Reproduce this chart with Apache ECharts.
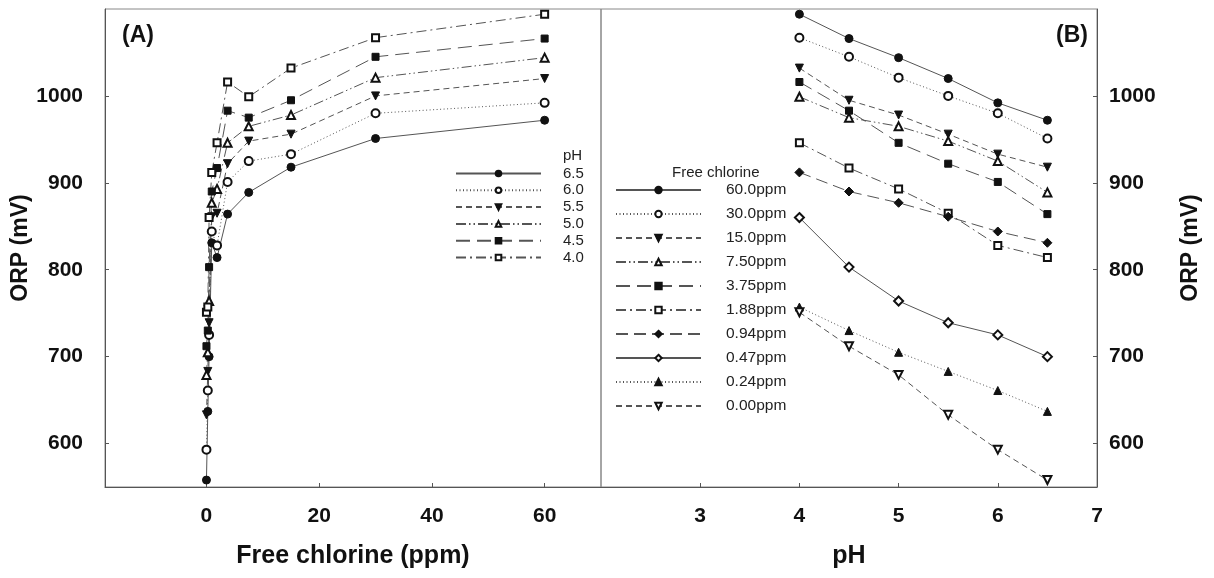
<!DOCTYPE html>
<html>
<head>
<meta charset="utf-8">
<script src="https://cdn.jsdelivr.net/npm/echarts@6/dist/echarts.min.js"></script>
<style>html,body{margin:0;padding:0;background:#fff}#c{width:1214px;height:578px}</style>
</head>
<body>
<div id="c"></div>
<script>
// ---- data ----
const freeChlorine = [0, 0.24, 0.47, 0.94, 1.88, 3.75, 7.5, 15, 30, 60]; // ppm (panel A x)
const pHValues = [4, 4.5, 5, 5.5, 6, 6.5];                            // panel B x
const pHLabels = ['6.5', '6.0', '5.5', '5.0', '4.5', '4.0'];
const chlorineLabels = ['60.0ppm', '30.0ppm', '15.0ppm', '7.50ppm', '3.75ppm', '1.88ppm', '0.94ppm', '0.47ppm', '0.24ppm', '0.00ppm'];
// ORP (mV) at pH 4.0, 4.5, 5.0, 5.5, 6.0, 6.5 for each free chlorine level
const orp60 = [1094, 1066, 1044, 1020, 992, 972];
const orp30 = [1067, 1045, 1021, 1000, 980, 951];
const orp15 = [1032, 995, 978, 956, 933, 918];
const orp7_50 = [999, 975, 965, 948, 925, 889];
const orp3_75 = [1016, 983, 946, 922, 901, 864];
const orp1_88 = [946, 917, 893, 865, 828, 814];
const orp0_94 = [912, 890, 877, 861, 844, 831];
const orp0_47 = [860, 803, 764, 739, 725, 700];
const orp0_24 = [757, 730, 705, 683, 661, 637];
const orp0_00 = [751, 712, 679, 633, 593, 558];
const yTicks = [600, 700, 800, 900, 1000];
const xTicksA = [0, 20, 40, 60];
const xTicksB = [3, 4, 5, 6, 7];

// ---- styles ----
const styles = [
  {dash: 'solid', sym: 'circle', size: 8},
  {dash: [1, 2.5], sym: 'emptyCircle', size: 8},
  {dash: [6, 4], sym: 'triangle', size: 8, rot: 180},
  {dash: [10, 3, 1.5, 3, 1.5, 3], sym: 'emptyTriangle', size: 8},
  {dash: [14, 7], sym: 'rect', size: 7},
  {dash: [10, 4, 2, 4], sym: 'emptyRect', size: 7},
  {dash: [12, 6], sym: 'diamond', size: 9},
  {dash: 'solid', sym: 'emptyDiamond', size: 9},
  {dash: [1, 2.5], sym: 'triangle', size: 8},
  {dash: [6, 4], sym: 'emptyTriangle', size: 8, rot: 180}
];

// chlorine levels ordered high->low (legend order)
const byChlorine = [orp60, orp30, orp15, orp7_50, orp3_75, orp1_88, orp0_94, orp0_47, orp0_24, orp0_00];
const chlorineValuesDesc = [60, 30, 15, 7.5, 3.75, 1.88, 0.94, 0.47, 0.24, 0];

const FONT = 'Liberation Sans, Arial, sans-serif';
const series = [];

function mk(name, data, st, xi) {
  return {
    name: name, type: 'line', xAxisIndex: xi, yAxisIndex: xi, data: data,
    symbol: st.sym, symbolSize: st.size, symbolRotate: st.rot || 0,
    lineStyle: {color: '#555', width: 1, type: st.dash},
    itemStyle: {color: '#111', borderColor: '#111', borderWidth: 1},
    emphasis: {disabled: true}, animation: false, z: 3
  };
}

// panel A: one series per pH (6.5 .. 4.0), x = free chlorine
pHLabels.forEach(function (lab, k) {
  const pHIdx = pHValues.indexOf(parseFloat(lab));
  const pts = freeChlorine.map(function (c) {
    const ci = chlorineValuesDesc.indexOf(c);
    return [c, byChlorine[ci][pHIdx]];
  });
  series.push(mk(lab, pts, styles[k], 0));
});
// panel B: one series per free chlorine level, x = pH
chlorineLabels.forEach(function (lab, k) {
  series.push(mk(lab, pHValues.map(function (p, i) { return [p, byChlorine[k][i]]; }), styles[k], 1));
});

const axisCommon = {
  axisLine: {show: true, onZero: false, lineStyle: {color: '#555', width: 1}},
  axisTick: {show: true, inside: true, length: 4, lineStyle: {color: '#555'}},
  splitLine: {show: false}
};
const nameFont = function (s) { return {fontFamily: FONT, fontWeight: 'bold', fontSize: s, color: '#111'}; };
const labelStyle = {fontFamily: FONT, fontWeight: 'bold', fontSize: 21, color: '#111', formatter: function (v) { return String(v); }};

const option = {
  backgroundColor: '#fff',
  animation: false,
  title: [
    {text: '(A)', left: 117, top: 19, textStyle: {fontFamily: FONT, fontWeight: 'bold', fontSize: 23, color: '#111'}},
    {text: '(B)', right: 121, top: 19, textStyle: {fontFamily: FONT, fontWeight: 'bold', fontSize: 23, color: '#111'}},
    {text: 'pH', left: 558, top: 143, textStyle: {fontFamily: FONT, fontWeight: 'normal', fontSize: 15, color: '#222'}},
    {text: 'Free chlorine', left: 667, top: 160, textStyle: {fontFamily: FONT, fontWeight: 'normal', fontSize: 15, color: '#222'}}
  ],
  grid: [
    {left: 105, right: 613, top: 9, bottom: 91, show: true, borderColor: '#888', borderWidth: 1, backgroundColor: 'transparent'},
    {left: 601, right: 117, top: 9, bottom: 91, show: true, borderColor: '#888', borderWidth: 1, backgroundColor: 'transparent'}
  ],
  xAxis: [
    Object.assign({}, axisCommon, {
      type: 'value', gridIndex: 0, min: -18, max: 70,
      name: 'Free chlorine (ppm)', nameLocation: 'middle', nameGap: 57, nameTextStyle: nameFont(25),
      axisTick: Object.assign({}, axisCommon.axisTick, {customValues: xTicksA}),
      axisLabel: Object.assign({}, labelStyle, {customValues: xTicksA, margin: 19})
    }),
    Object.assign({}, axisCommon, {
      type: 'value', gridIndex: 1, min: 2, max: 7,
      name: 'pH', nameLocation: 'middle', nameGap: 57, nameTextStyle: nameFont(25),
      axisTick: Object.assign({}, axisCommon.axisTick, {customValues: xTicksB}),
      axisLabel: Object.assign({}, labelStyle, {customValues: xTicksB, margin: 19})
    })
  ],
  yAxis: [
    Object.assign({}, axisCommon, {
      type: 'value', gridIndex: 0, min: 550, max: 1100, position: 'left',
      name: 'ORP (mV)', nameLocation: 'middle', nameGap: 66, nameRotate: 90, nameTextStyle: nameFont(23),
      axisTick: Object.assign({}, axisCommon.axisTick, {customValues: yTicks}),
      axisLabel: Object.assign({}, labelStyle, {customValues: yTicks, margin: 22})
    }),
    Object.assign({}, axisCommon, {
      type: 'value', gridIndex: 1, min: 550, max: 1100, position: 'right',
      name: 'ORP (mV)', nameLocation: 'middle', nameGap: 82, nameRotate: 90, nameTextStyle: nameFont(23),
      axisTick: Object.assign({}, axisCommon.axisTick, {customValues: yTicks}),
      axisLabel: Object.assign({}, labelStyle, {customValues: yTicks, margin: 12})
    })
  ],
  legend: [
    {
      data: pHLabels, orient: 'vertical', left: 455, top: 166, padding: 0,
      itemWidth: 85, itemHeight: 7, itemGap: 1.8, selectedMode: false,
      textStyle: {fontFamily: FONT, fontSize: 15, lineHeight: 12, color: '#222', padding: [0, 0, 0, 17]}
    },
    {
      data: chlorineLabels, orient: 'vertical', left: 615, top: 182, padding: 0,
      itemWidth: 85, itemHeight: 8, itemGap: 8, selectedMode: false,
      textStyle: {fontFamily: FONT, fontSize: 15.5, lineHeight: 16, color: '#222', padding: [0, 0, 0, 20]}
    }
  ],
  series: series
};

const chart = echarts.init(document.getElementById('c'), null, {renderer: 'canvas'});
chart.setOption(option);
</script>
</body>
</html>
